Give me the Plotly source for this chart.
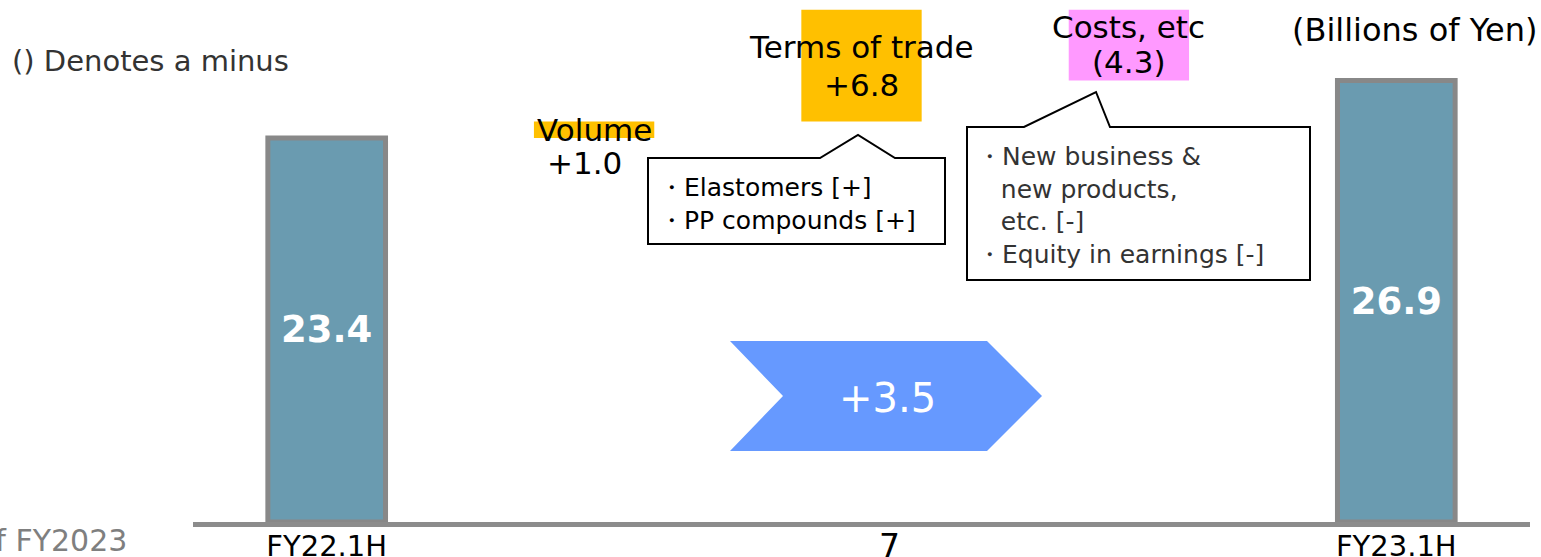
import plotly.graph_objects as go

# operating income bridge, billions of yen
categories = ["FY22.1H", "Volume", "Terms of trade", "Costs, etc", "FY23.1H"]
measures = ["absolute", "relative", "relative", "relative", "total"]
values = [23.4, 1.0, 6.8, -4.3, 0]
delta_names = ["Volume", "Terms of trade", "Costs, etc"]
callout_trade = ["・Elastomers [+]", "・PP compounds [+]"]
callout_costs = ["・New business &", " new products,", " etc. [-]", "・Equity in earnings [-]"]
tick_labels = ["FY22.1H", "FY23.1H"]

W, H = 1541, 557
L, R, T, B = 193, 11, 0, 35
FONT = "DejaVu Sans"
NB = "\u00a0\u00a0"  # keeps the indent of wrapped callout lines


def px(x):
    return (x - L) / (W - L - R)


def py(y):
    return (H - B - y) / (H - B - T)


def fmt(v):
    return "+{:.1f}".format(v) if v >= 0 else "({:.1f})".format(-v)


def note(x, y, text, size, color="black", xanchor="center", **kw):
    return dict(x=px(x), y=py(y), xref="paper", yref="paper", text=text,
                showarrow=False, xanchor=xanchor, yanchor="middle",
                font=dict(family=FONT, size=size, color=color), **kw)


end_total = values[0] + sum(values[1:4])
bar_text = ["{:.1f}".format(values[0]), "", "", "", "{:.1f}".format(end_total)]

fig = go.Figure()
fig.add_trace(go.Waterfall(
    x=categories, y=values, measure=measures,
    width=[0.44, 0.45, 0.45, 0.45, 0.44],
    text=bar_text, textinfo="text", textposition="inside",
    insidetextanchor="middle", constraintext="none",
    textfont=dict(family=FONT, size=37, color="white", weight="bold"),
    totals=dict(marker=dict(color="#6A9BB0", line=dict(color="#888888", width=5))),
    increasing=dict(marker=dict(color="#FFC000", line=dict(width=0))),
    decreasing=dict(marker=dict(color="#FF99FF", line=dict(width=0))),
    connector=dict(visible=False),
    hoverinfo="skip",
))

shapes = []
# callout for terms of trade
shapes.append(dict(
    type="path", xref="paper", yref="paper",
    path="M {} {} L {} {} L {} {} L {} {} L {} {} L {} {} L {} {} Z".format(
        px(648), py(158), px(820), py(158), px(858), py(135), px(895), py(158),
        px(945), py(158), px(945), py(244), px(648), py(244)),
    line=dict(color="black", width=2), fillcolor="white", layer="above"))
# callout for costs
shapes.append(dict(
    type="path", xref="paper", yref="paper",
    path="M {} {} L {} {} L {} {} L {} {} L {} {} L {} {} L {} {} Z".format(
        px(967), py(127), px(1024), py(127), px(1096), py(92), px(1110), py(127),
        px(1310), py(127), px(1310), py(280), px(967), py(280)),
    line=dict(color="black", width=2), fillcolor="white", layer="above"))
# chevron arrow for total change
shapes.append(dict(
    type="path", xref="paper", yref="paper",
    path="M {} {} L {} {} L {} {} L {} {} L {} {} L {} {} Z".format(
        px(730), py(341), px(987), py(341), px(1042), py(396),
        px(987), py(451), px(730), py(451), px(783), py(396)),
    line=dict(width=0), fillcolor="#6699FF", layer="above"))

annotations = []
label_y = {"Volume": (130, 163), "Terms of trade": (47, 85), "Costs, etc": (27, 62)}
label_shift = {"Volume": (0, -10), "Terms of trade": (0, 0), "Costs, etc": (0, 0)}
for name, v in zip(delta_names, values[1:4]):
    y1, y2 = label_y[name]
    for yy, txt, sh in ((y1, name, label_shift[name][0]), (y2, fmt(v), label_shift[name][1])):
        annotations.append(dict(x=name, xref="x", y=py(yy), yref="paper", text=txt,
                                showarrow=False, xanchor="center", yanchor="middle",
                                xshift=sh,
                                font=dict(family=FONT, size=31, color="black")))

costs_lines = [s if s.startswith("・") else NB + s for s in callout_costs]
annotations.append(note(657, 204, "<br>".join(callout_trade), 25,
                        xanchor="left", align="left"))
annotations.append(note(975, 205, "<br>".join(costs_lines), 25, color="#333333",
                        xanchor="left", align="left"))
annotations.append(note(887, 398, fmt(end_total - values[0]), 40, color="white"))
annotations.append(note(10, 61, "() Denotes a minus", 29, color="#333333", xanchor="left"))
annotations.append(note(1539, 30, "(Billions of Yen)", 32, xanchor="right"))
annotations.append(note(129, 540, "of FY2023", 30, color="#7F7F7F", xanchor="right"))
annotations.append(note(890, 546, "7", 33))

fig.update_layout(
    width=W, height=H,
    margin=dict(l=L, r=R, t=T, b=B, autoexpand=False),
    paper_bgcolor="white", plot_bgcolor="white",
    showlegend=False,
    shapes=shapes, annotations=annotations,
    xaxis=dict(type="category", range=[-0.5, 4.5], showline=True, automargin=False,
               linecolor="#8C8C8C", linewidth=5, showgrid=False,
               tickmode="array", tickvals=tick_labels, ticktext=tick_labels,
               ticklabelstandoff=-6,
               tickfont=dict(family=FONT, size=29, color="black"), ticks=""),
    yaxis=dict(range=[0, 31.8], visible=False, showgrid=False, zeroline=False,
               automargin=False),
)

fig.write_html("out.html", config={"displayModeBar": False},
               post_script="document.body.style.margin='0px';")
